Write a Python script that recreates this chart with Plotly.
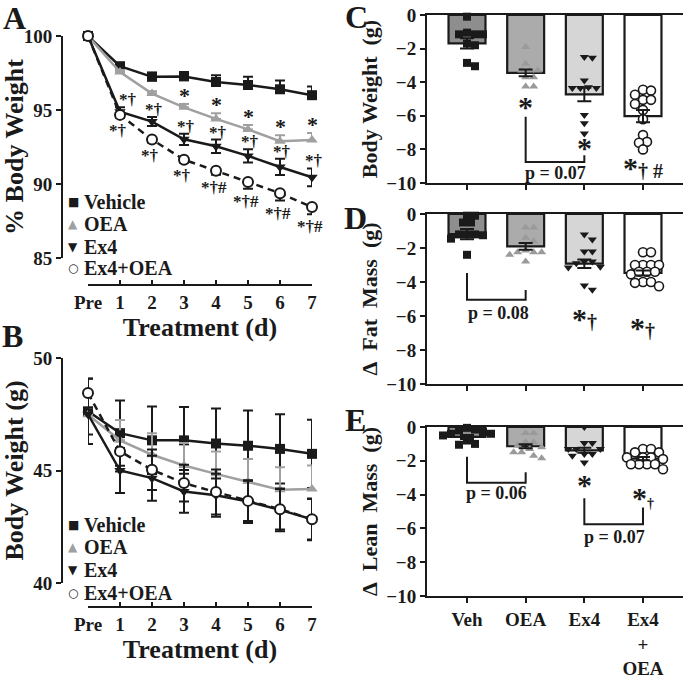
import plotly.graph_objects as go

W, H = 685, 678

# ---------------- DATA ----------------
days = ["Pre", "1", "2", "3", "4", "5", "6", "7"]
series_names = ["Vehicle", "OEA", "Ex4", "Ex4+OEA"]

# Panel A: % body weight
a_vehicle = [100, 97.96, 97.24, 97.27, 96.89, 96.69, 96.40, 96.00]
a_vehicle_err = [0, 0.20, 0.30, 0.30, 0.45, 0.55, 0.60, 0.58]
a_oea = [100, 97.56, 96.11, 95.18, 94.40, 93.69, 92.89, 92.98]
a_oea_err = [0, 0.15, 0.15, 0.22, 0.38, 0.30, 0.40, 0.47]
a_ex4 = [100, 94.89, 94.22, 93.02, 92.55, 91.90, 91.15, 90.45]
a_ex4_err = [0, 0.30, 0.30, 0.38, 0.45, 0.45, 0.55, 0.60]
a_combo = [100, 94.67, 93.00, 91.64, 90.89, 90.13, 89.38, 88.44]
a_combo_err = [0, 0.20, 0.20, 0.20, 0.27, 0.45, 0.50, 0.49]
a_oea_sig = ["", "", "", "*", "*", "*", "*", "*"]
a_ex4_sig = ["", "*†", "*†", "*†", "*†", "*†", "*†", "*†"]
a_combo_sig = ["", "*†", "*†", "*†", "*†#", "*†#", "*†#", "*†#"]

# Panel B: body weight (g)
b_vehicle = [47.63, 46.66, 46.34, 46.34, 46.20, 46.10, 45.96, 45.74]
b_vehicle_err = [1.45, 1.45, 1.50, 1.48, 1.56, 1.57, 1.54, 1.52]
b_oea = [47.48, 46.34, 45.70, 45.22, 44.85, 44.51, 44.14, 44.18]
b_oea_err = [0.30, 0.90, 0.95, 1.00, 1.00, 1.00, 1.00, 1.04]
b_ex4 = [47.50, 45.00, 44.66, 44.07, 43.90, 43.62, 43.25, 42.83]
b_ex4_err = [0.90, 1.00, 1.00, 0.95, 0.95, 0.95, 0.95, 0.93]
b_combo = [48.44, 45.85, 45.03, 44.44, 44.04, 43.65, 43.28, 42.83]
b_combo_err = [0.65, 0.90, 0.90, 0.82, 1.00, 0.90, 0.90, 0.90]

# Panels C-E: change from baseline (g)
groups = ["Veh", "OEA", "Ex4", "Ex4<br>+<br>OEA"]
c_means = [-1.69, -3.44, -4.73, -6.02]
c_sem = [0.30, 0.20, 0.40, 0.37]
c_veh_pts = [-0.10, -1.15, -1.05, -1.15, -1.15, -1.70, -1.80, -3.05, -2.85]
c_oea_pts = [-1.90, -2.90, -3.30, -3.30, -3.30, -3.70, -3.70, -4.25, -4.25]
c_ex4_pts = [-2.55, -2.50, -3.90, -4.30, -4.35, -4.35, -4.35, -5.95, -6.45, -7.05]
c_combo_pts = [-4.45, -4.50, -4.75, -5.05, -5.05, -5.30, -5.65, -6.20, -7.15, -7.55, -7.60, -8.00]

d_means = [-1.18, -1.90, -2.92, -3.47]
d_sem = [0.30, 0.20, 0.25, 0.15]
d_veh_pts = [-0.10, -0.10, -0.50, -0.50, -1.20, -1.25, -1.20, -1.20, -1.45, -2.40]
d_oea_pts = [-0.80, -0.80, -1.60, -1.40, -2.25, -2.25, -2.15, -2.25, -2.80, -2.40]
d_ex4_pts = [-1.20, -1.50, -2.20, -2.20, -2.80, -2.90, -3.10, -2.80, -3.15, -4.45, -4.20]
d_combo_pts = [-2.25, -2.25, -3.00, -3.00, -3.00, -3.00, -3.40, -3.55, -3.40, -3.40, -4.00, -4.05, -4.00, -4.25]

e_means = [-0.59, -1.14, -1.38, -1.87]
e_sem = [0.12, 0.12, 0.15, 0.10]
e_veh_pts = [-0.05, -0.15, -0.20, -0.40, -0.30, -0.40, -0.50, -0.80, -1.00, -1.05]
e_oea_pts = [-0.35, -0.35, -0.90, -0.90, -1.10, -1.20, -1.30, -1.50, -1.50, -1.70, -1.85]
e_ex4_pts = [0.00, -0.95, -0.95, -1.30, -1.30, -1.30, -1.60, -1.60, -1.70, -2.10]
e_combo_pts = [-1.30, -1.30, -1.50, -1.50, -1.80, -1.80, -1.80, -1.90, -2.20, -2.20, -2.20, -2.20, -2.50]

# ---------------- STYLE ----------------
FONT = "Liberation Serif"
BLACK = "#1a1a1a"
GRAY_LINE = "#a0a0a0"
BAR_FILLS = ["#8e8e8e", "#ababab", "#d6d6d6", "#ffffff"]
PT_COLORS = [BLACK, "#9a9a9a", BLACK, BLACK]
PT_SYMBOLS = ["square", "triangle-up", "triangle-down", "circle-open"]


def fx(p):
    return p / W


def fy(p):
    return 1 - p / H


fig = go.Figure()

line_styles = [
    dict(color=BLACK, width=2.5, dash="solid"),
    dict(color=GRAY_LINE, width=2.5, dash="solid"),
    dict(color=BLACK, width=2.5, dash="solid"),
    dict(color=BLACK, width=2.5, dash="7px,5px"),
]
marker_styles = [
    dict(symbol="square", size=10, color=BLACK),
    dict(symbol="triangle-up", size=10, color=GRAY_LINE),
    dict(symbol="triangle-down", size=10, color=BLACK),
    dict(symbol="circle", size=10, color="white", line=dict(color=BLACK, width=2)),
]


def add_line_panel(xa, ya, vals, errs, err_modes):
    for k, (v, e, mode) in enumerate(zip(vals, errs, err_modes)):
        if mode == "up":
            ey = dict(type="data", array=e, arrayminus=[0] * len(e), symmetric=False)
        elif mode == "down":
            ey = dict(type="data", array=[0] * len(e), arrayminus=e, symmetric=False)
        else:
            ey = dict(type="data", array=e, symmetric=True)
        ey.update(color=line_styles[k]["color"], thickness=2, width=5)
        fig.add_trace(go.Scatter(
            x=list(range(len(days))), y=v, mode="lines+markers",
            line=line_styles[k], marker=marker_styles[k], error_y=ey,
            name=series_names[k], showlegend=False, cliponaxis=False,
            xaxis=xa, yaxis=ya,
        ))


add_line_panel("x", "y", [a_vehicle, a_oea, a_ex4, a_combo],
               [a_vehicle_err, a_oea_err, a_ex4_err, a_combo_err],
               ["up", "up", "both", "down"])
add_line_panel("x2", "y2", [b_vehicle, b_oea, b_ex4, b_combo],
               [b_vehicle_err, b_oea_err, b_ex4_err, b_combo_err],
               ["both", "up", "both", "both"])

# ---- bar panels ----
XPX = 58.67  # px per category unit


def swarm(values, ypx, d=8.0):
    placed = []
    offs = [0.0] * len(values)
    order = sorted(range(len(values)), key=lambda i: -values[i])
    cands = [0.0]
    for k in range(1, 30):
        cands += [k * d / 2, -k * d / 2]
    for i in order:
        y = values[i] * ypx
        chosen = 0.0
        for c in cands:
            if all((c - px) ** 2 + (y - py) ** 2 >= d * d * 0.95 for px, py in placed):
                chosen = c
                break
        placed.append((chosen, y))
        offs[i] = chosen / XPX
    return offs


def add_bar_panel(xa, ya, means, sems, pts_list, ypx):
    fig.add_trace(go.Bar(
        x=[0, 1, 2, 3], y=means, width=0.63,
        marker=dict(color=BAR_FILLS, line=dict(color=BLACK, width=2.2)),
        showlegend=False, xaxis=xa, yaxis=ya,
    ))
    for g, pts in enumerate(pts_list):
        offs = swarm(pts, ypx)
        xs = [g + o for o in offs]
        if g == 3:
            mk = dict(symbol="circle", size=9, color="white", line=dict(color=BLACK, width=1.6))
        else:
            mk = dict(symbol=PT_SYMBOLS[g], size=8, color=PT_COLORS[g])
        fig.add_trace(go.Scatter(
            x=xs, y=pts, mode="markers", marker=mk, showlegend=False,
            cliponaxis=False, xaxis=xa, yaxis=ya,
        ))
    fig.add_trace(go.Scatter(
        x=[0, 1, 2, 3], y=means, mode="markers",
        marker=dict(size=1, color="rgba(0,0,0,0)"),
        error_y=dict(type="data", array=sems, symmetric=True, color=BLACK, thickness=2, width=7),
        showlegend=False, cliponaxis=False, xaxis=xa, yaxis=ya,
    ))


add_bar_panel("x3", "y3", c_means, c_sem, [c_veh_pts, c_oea_pts, c_ex4_pts, c_combo_pts], 16.8)
add_bar_panel("x4", "y4", d_means, d_sem, [d_veh_pts, d_oea_pts, d_ex4_pts, d_combo_pts], 17.0)
add_bar_panel("x5", "y5", e_means, e_sem, [e_veh_pts, e_oea_pts, e_ex4_pts, e_combo_pts], 16.9)

# ---------------- AXES ----------------
tickfont = dict(family=FONT, size=19, color=BLACK, weight="bold")
titlefont_big = dict(family=FONT, size=26, color=BLACK, weight="bold")
titlefont_small = dict(family=FONT, size=22, color=BLACK, weight="bold")

common_x_line = dict(
    range=[0, 7], tickvals=list(range(8)), ticktext=days, ticks="inside", ticklen=4,
    tickwidth=2, tickcolor=BLACK, showline=True, linewidth=2, linecolor=BLACK,
    showgrid=False, zeroline=False, tickfont=tickfont, anchor="free",
    domain=[fx(88), fx(312)], automargin=False,
)
common_y_line = dict(
    anchor="free", position=fx(62), ticks="outside", ticklen=5, tickwidth=2,
    tickcolor=BLACK, showline=True, linewidth=2, linecolor=BLACK,
    showgrid=False, zeroline=False, tickfont=tickfont, automargin=False,
)
fig.update_layout(
    xaxis=dict(common_x_line, position=fy(285),
               title=dict(text="Treatment (d)", font=titlefont_big, standoff=4)),
    yaxis=dict(common_y_line, range=[85, 100], tickvals=[85, 90, 95, 100],
               domain=[fy(258), fy(36)],
               title=dict(text="% Body Weight", font=titlefont_big, standoff=6)),
    xaxis2=dict(common_x_line, position=fy(607),
                title=dict(text="Treatment (d)", font=titlefont_big, standoff=4)),
    yaxis2=dict(common_y_line, range=[40, 50], tickvals=[40, 45, 50],
                domain=[fy(583), fy(358)],
                title=dict(text="Body Weight (g)", font=titlefont_big, standoff=10)),
)

bar_y_titles = ["Body\u00a0Weight\u00a0\u00a0(g)", "Δ\u00a0\u00a0Fat\u00a0\u00a0Mass\u00a0\u00a0(g)",
                "Δ\u00a0\u00a0Lean\u00a0\u00a0Mass\u00a0\u00a0(g)"]
bar_domains = [(15, 183), (214, 384), (427, 596)]
for i, (top, bot) in enumerate(bar_domains):
    n = i + 3
    fig.update_layout({
        f"xaxis{n}": dict(
            domain=[fx(427), fx(683)], range=[-0.682, 3.682], anchor=f"y{n}",
            tickvals=[0, 1, 2, 3], ticktext=groups, showticklabels=(i == 2),
            ticks="outside", ticklen=5, tickwidth=2, tickcolor=BLACK,
            showline=True, mirror=True, linewidth=2, linecolor=BLACK,
            showgrid=False, zeroline=False, tickfont=dict(tickfont, size=19),
            automargin=False,
        ),
        f"yaxis{n}": dict(
            domain=[fy(bot), fy(top)], range=[-10, 0], anchor=f"x{n}",
            tickvals=[0, -2, -4, -6, -8, -10], ticks="outside", ticklen=5, tickwidth=2,
            tickcolor=BLACK, showline=True, linewidth=2, linecolor=BLACK,
            showgrid=False, zeroline=False, tickfont=tickfont, automargin=False,
            title=dict(text=bar_y_titles[i], font=titlefont_small, standoff=3),
        ),
    })

# ---------------- ANNOTATIONS ----------------
ann = []
sigfont = dict(family=FONT, size=17, color=BLACK, weight="bold")
for i in range(len(days)):
    if a_oea_sig[i]:
        ann.append(dict(x=i, y=a_oea[i] + a_oea_err[i], xref="x", yref="y", text=a_oea_sig[i],
                        showarrow=False, yanchor="bottom", yshift=-6, font=dict(sigfont, size=22)))
    if a_ex4_sig[i]:
        ann.append(dict(x=i, y=a_ex4[i] + a_ex4_err[i], xref="x", yref="y", text=a_ex4_sig[i],
                        showarrow=False, yanchor="bottom", yshift=-4, xshift=8 if i == 1 else 2,
                        font=sigfont))
    if a_combo_sig[i]:
        ann.append(dict(x=i, y=a_combo[i] - a_combo_err[i], xref="x", yref="y", text=a_combo_sig[i],
                        showarrow=False, yanchor="top", yshift=-1, xshift=-2, font=sigfont))

# legends (A and B)
leg_syms = ["■", "▲", "▼", "○"]
leg_cols = [BLACK, GRAY_LINE, BLACK, BLACK]
legfont = dict(family=FONT, size=20, color=BLACK, weight="bold")
for rows in ([202, 224, 247, 268], [525, 547, 570, 593]):
    for k, yp in enumerate(rows):
        ann.append(dict(x=fx(73), y=fy(yp), xref="paper", yref="paper", text=leg_syms[k],
                        showarrow=False, xanchor="center", yanchor="middle",
                        font=dict(family="DejaVu Sans", size=12, color=leg_cols[k])))
        ann.append(dict(x=fx(82), y=fy(yp), xref="paper", yref="paper", text=series_names[k],
                        showarrow=False, xanchor="left", yanchor="middle", font=legfont))

# panel letters
letterfont = dict(family=FONT, size=32, color=BLACK, weight="bold")
for txt, xp, yp in [("A", 14, 18), ("B", 12, 336), ("C", 356, 17), ("D", 355, 218), ("E", 355, 420)]:
    ann.append(dict(x=fx(xp), y=fy(yp), xref="paper", yref="paper", text=txt, showarrow=False,
                    xanchor="center", yanchor="middle", font=letterfont))


# bar-panel significance marks and p-values
def star(s):
    return f"<span style='font-size:30px'>*</span>{s}"


pfont = dict(family=FONT, size=18, color=BLACK, weight="bold")
bar_marks = [
    ("x3", "y3", 1, -5.42, star("")),
    ("x3", "y3", 2, -7.86, star("")),
    ("x3", "y3", 3, -9.10, star("† #")),
    ("x4", "y4", 2, -6.12, star("†")),
    ("x4", "y4", 3, -6.65, star("†")),
    ("x5", "y5", 2, -3.43, star("")),
    ("x5", "y5", 3, -4.20, star("<span style='font-size:14px'>†</span>")),
]
for xa, ya, xv, yv, t in bar_marks:
    ann.append(dict(x=xv, y=yv, xref=xa, yref=ya, text=t, showarrow=False,
                    yanchor="middle", yshift=0, font=dict(sigfont, size=20)))

pvals = [("x3", "y3", 1.5, -9.42, "p = 0.07"), ("x4", "y4", 0.53, -5.82, "p = 0.08"),
         ("x5", "y5", 0.51, -3.92, "p = 0.06"), ("x5", "y5", 2.52, -6.5, "p = 0.07")]
for xa, ya, xv, yv, t in pvals:
    ann.append(dict(x=xv, y=yv, xref=xa, yref=ya, text=t, showarrow=False,
                    yanchor="middle", font=pfont))

# brackets
shapes = []
brackets = [("x3", "y3", 1, 2, -6.06, -8.75, -8.35),
            ("x4", "y4", 0, 1, -3.47, -5.04, -4.47),
            ("x5", "y5", 0, 1, -1.76, -3.30, -2.68),
            ("x5", "y5", 2, 3, -4.22, -5.76, -4.77)]
for xa, ya, x0, x1, ytop0, ybot, ytop1 in brackets:
    path = f"M {x0},{ytop0} L {x0},{ybot} L {x1},{ybot} L {x1},{ytop1}"
    shapes.append(dict(type="path", path=path, xref=xa, yref=ya,
                       line=dict(color=BLACK, width=2)))

fig.update_layout(
    width=W, height=H, margin=dict(l=0, r=0, t=0, b=0, pad=0, autoexpand=False),
    paper_bgcolor="white", plot_bgcolor="white",
    annotations=ann, shapes=shapes, showlegend=False,
    font=dict(family=FONT, color=BLACK),
)

# remove the browser's default 8px page margin so the figure sits at the window origin
fig.write_html("out.html", config={"displayModeBar": False},
               post_script="document.body.style.margin='0px';")
